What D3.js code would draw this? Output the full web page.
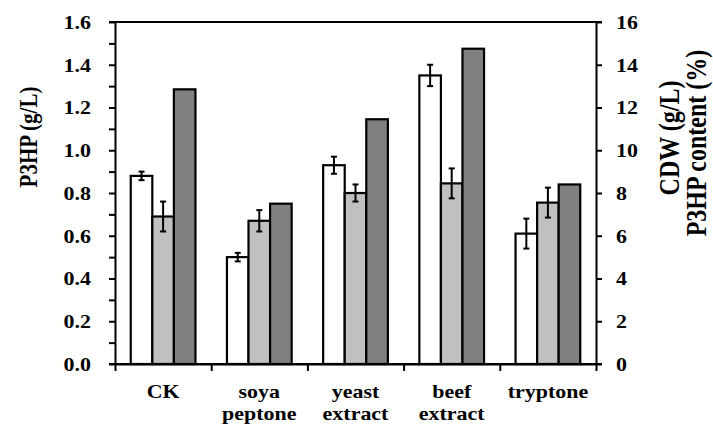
<!DOCTYPE html>
<html>
<head>
<meta charset="utf-8">
<script src="https://cdn.jsdelivr.net/npm/d3@7"></script>
<style>
  body { margin: 0; background: #fff; }
</style>
</head>
<body>
<div class="chart"></div>
<script>
let categories = ["CK", "soya peptone", "yeast extract", "beef extract", "tryptone"];
let categoryLines = [["CK"], ["soya", "peptone"], ["yeast", "extract"], ["beef", "extract"], ["tryptone"]];
let series = ["P3HP", "CDW", "content"];
let p3hp = [0.88, 0.50, 0.93, 1.35, 0.61];
let p3hpErr = [0.02, 0.02, 0.04, 0.05, 0.07];
let cdw = [6.9, 6.7, 8.0, 8.45, 7.55];
let cdwErr = [0.7, 0.5, 0.4, 0.7, 0.7];
let content = [12.85, 7.5, 11.45, 14.75, 8.4];
let leftTicks = d3.range(0, 17).map(d => d / 10);
let rightTicks = d3.range(0, 17, 2);

let width = 713, height = 428;
let margin = { top: 22, left: 115, right: 117, bottom: 64 };
let sx = 1.22; // text in the picture is stretched sideways
let serif = "'Liberation Serif', 'Times New Roman', Times, serif";

let svg = d3.select(".chart")
  .append("svg")
  .attr("width", width)
  .attr("height", height);

let x0 = d3.scaleBand()
  .domain(categories)
  .range([margin.left, width - margin.right]);

let x1 = d3.scaleBand()
  .domain(series)
  .range([0, x0.bandwidth()])
  .paddingOuter(0.73);

let yLeft = d3.scaleLinear().domain([0, 1.6]).range([height - margin.bottom, margin.top]);
let yRight = d3.scaleLinear().domain([0, 16]).range([height - margin.bottom, margin.top]);

let fills = { P3HP: "#ffffff", CDW: "#c0c0c0", content: "#808080" };

let rows = categories.map(function(c, i) {
  return [
    { cat: c, key: "P3HP", v: p3hp[i], err: p3hpErr[i], y: yLeft },
    { cat: c, key: "CDW", v: cdw[i], err: cdwErr[i], y: yRight },
    { cat: c, key: "content", v: content[i], err: null, y: yRight }
  ];
});

// bars
let groups = svg.selectAll(".grp")
  .data(rows)
  .enter()
  .append("g")
  .attr("class", "grp")
  .attr("transform", (d, i) => "translate(" + x0(categories[i]) + ",0)");

groups.selectAll("rect")
  .data(d => d)
  .enter()
  .append("rect")
  .attr("x", d => x1(d.key))
  .attr("width", x1.bandwidth())
  .attr("y", d => d.y(d.v))
  .attr("height", d => d.y(0) - d.y(d.v))
  .attr("fill", d => fills[d.key])
  .attr("stroke", "#000")
  .attr("stroke-width", 2.2);

// error bars
let errs = groups.selectAll(".err")
  .data(d => d.filter(e => e.err != null))
  .enter()
  .append("g")
  .attr("class", "err")
  .attr("stroke", "#000")
  .attr("stroke-width", 2);

errs.append("line")
  .attr("x1", d => x1(d.key) + x1.bandwidth() / 2)
  .attr("x2", d => x1(d.key) + x1.bandwidth() / 2)
  .attr("y1", d => d.y(d.v - d.err))
  .attr("y2", d => d.y(d.v + d.err));

[-1, 1].forEach(function(s) {
  errs.append("line")
    .attr("x1", d => x1(d.key) + x1.bandwidth() / 2 - 3)
    .attr("x2", d => x1(d.key) + x1.bandwidth() / 2 + 3)
    .attr("y1", d => d.y(d.v + s * d.err))
    .attr("y2", d => d.y(d.v + s * d.err));
});

// left axis
let leftAxis = svg.append("g")
  .attr("transform", "translate(" + margin.left + ",0)")
  .call(d3.axisLeft(yLeft)
    .tickValues(leftTicks)
    .tickSize(6)
    .tickSizeOuter(0)
    .tickFormat(d => Math.round(d * 10) % 2 === 0 ? d3.format(".1f")(d) : ""));

leftAxis.selectAll("text")
  .attr("font-size", 18)
  .attr("x", -24 / sx)
  .attr("dy", "0.35em")
  .attr("transform", "scale(" + sx + ",1)");

// right axis
let rightAxis = svg.append("g")
  .attr("transform", "translate(" + (width - margin.right) + ",0)")
  .call(d3.axisRight(yRight)
    .tickValues(rightTicks)
    .tickSize(6)
    .tickSizeOuter(0)
    .tickFormat(d3.format("d")));

rightAxis.selectAll("text")
  .attr("font-size", 18)
  .attr("x", 20 / sx)
  .attr("dy", "0.35em")
  .attr("transform", "scale(" + sx + ",1)");

// bottom axis: ticks on category boundaries
svg.append("g")
  .attr("transform", "translate(0," + (height - margin.bottom) + ")")
  .call(d3.axisBottom(d3.scaleLinear().domain([0, 5]).range([margin.left, width - margin.right]))
    .tickValues(d3.range(0, 6))
    .tickSize(7)
    .tickSizeOuter(0)
    .tickFormat(""));

// top border and baseline, extended to the axis ticks
svg.append("line")
  .attr("x1", margin.left - 6).attr("x2", width - margin.right + 6)
  .attr("y1", margin.top).attr("y2", margin.top)
  .attr("stroke", "#000").attr("stroke-width", 2);
svg.append("line")
  .attr("x1", margin.left - 6).attr("x2", width - margin.right + 6)
  .attr("y1", height - margin.bottom).attr("y2", height - margin.bottom)
  .attr("stroke", "#000").attr("stroke-width", 2);

svg.selectAll(".domain, .tick line").attr("stroke", "#000").attr("stroke-width", 2);

// category labels
categoryLines.forEach(function(lines, i) {
  let cx = x0(categories[i]) + x0.bandwidth() / 2;
  let g = svg.append("g").attr("transform", "translate(" + cx + ",0) scale(" + sx + ",1)");
  lines.forEach(function(t, j) {
    g.append("text")
      .attr("y", 398 + j * 22)
      .attr("text-anchor", "middle")
      .attr("font-size", 18)
      .text(t);
  });
});

// axis titles
function vtitle(x, y, size, label) {
  svg.append("g")
    .attr("transform", "translate(" + x + "," + y + ") scale(" + sx + ",1)")
    .append("text")
    .attr("transform", "rotate(-90)")
    .attr("text-anchor", "middle")
    .attr("font-size", size)
    .text(label);
}
vtitle(37, 137, 21, "P3HP (g/L)");
vtitle(679, 138, 24, "CDW (g/L)");
vtitle(706, 143, 24, "P3HP content (%)");

svg.selectAll("text")
  .style("font-family", serif)
  .style("font-weight", "bold")
  .attr("fill", "#000");
</script>
</body>
</html>
